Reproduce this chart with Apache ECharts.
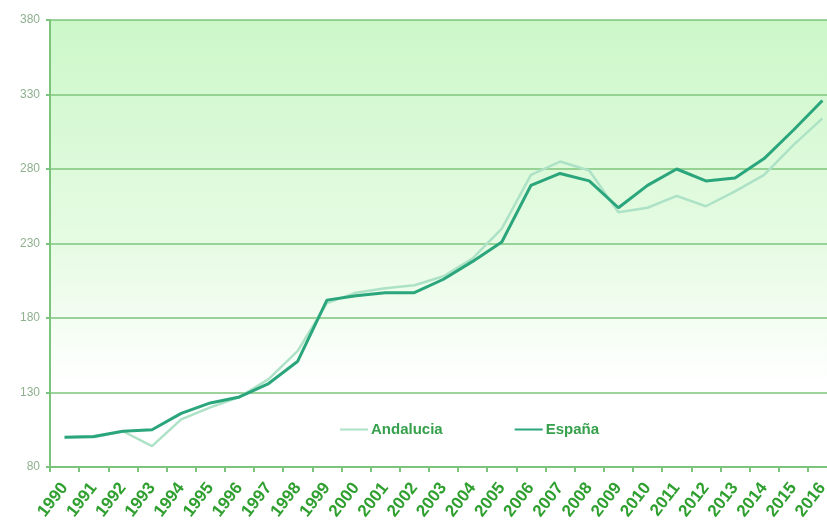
<!DOCTYPE html>
<html><head><meta charset="utf-8">
<script src="https://cdn.jsdelivr.net/npm/echarts@6/dist/echarts.min.js"></script>
<style>html,body{margin:0;padding:0;background:#fff}#c{width:827px;height:525px}</style>
</head><body><div id="c"></div>
<script>
const years = ['1990','1991','1992','1993','1994','1995','1996','1997','1998','1999','2000','2001','2002','2003','2004','2005','2006','2007','2008','2009','2010','2011','2012','2013','2014','2015','2016'];
const andalucia = [100,100,104,94,112,120,127,139,158,190,197,200,202,208,220,240,276,285,279,251,254,262,255,265,276,296,314];
const espana = [100,100.5,104,105,116,123,127,136,151,192,195,197,197,206,218,231,269,277,272,254,269,280,272,274,287,306,326];
const yTicks = [80,130,180,230,280,330,380];

const chart = echarts.init(document.getElementById('c'));
chart.setOption({
  animation:false,
  backgroundColor:'#ffffff',
  grid:{left:50,right:-10,top:20,bottom:58,show:true,borderWidth:0,outerBoundsMode:'none',containLabel:false,
    backgroundColor:new echarts.graphic.LinearGradient(0,0,0,1,[
      {offset:0,color:'#ccf8c9'},{offset:0.5,color:'#e6fbe3'},{offset:0.82,color:'#ffffff'},{offset:1,color:'#ffffff'}])},
  legend:{left:335,top:417,itemGap:72,itemWidth:28,itemHeight:2,icon:'rect',
    textStyle:{color:'#36a04c',fontSize:15,fontWeight:'bold',fontFamily:'Liberation Sans',padding:[0,0,0,-2]},
    data:['Andalucia','España']},
  xAxis:{type:'category',data:years,boundaryGap:true,
    axisLine:{lineStyle:{color:'#7cc47c',width:2}},
    axisTick:{show:true,length:5,lineStyle:{color:'#7cc47c',width:2}},
    axisLabel:{rotate:52,color:'#2f9f2f',fontSize:17,fontWeight:'bold',fontFamily:'Liberation Sans',interval:0,margin:18}},
  yAxis:{type:'value',min:yTicks[0],max:yTicks[yTicks.length-1],interval:50,
    axisLine:{show:true,lineStyle:{color:'#7cc47c',width:2}},
    axisTick:{show:true,length:4,lineStyle:{color:'#7cc47c',width:2}},
    axisLabel:{color:'#8fb08f',fontSize:12,fontFamily:'Liberation Sans',margin:10},
    splitLine:{lineStyle:{color:'#7cc47c',width:1.5}}},
  series:[
    {name:'Andalucia',type:'line',data:andalucia,symbol:'none',z:2,
      lineStyle:{color:'#ade2c6',width:2.5},itemStyle:{color:'#ade2c6'}},
    {name:'España',type:'line',data:espana,symbol:'none',z:3,
      lineStyle:{color:'#2aa57c',width:3},itemStyle:{color:'#2aa57c'}}
  ]
});
</script></body></html>
